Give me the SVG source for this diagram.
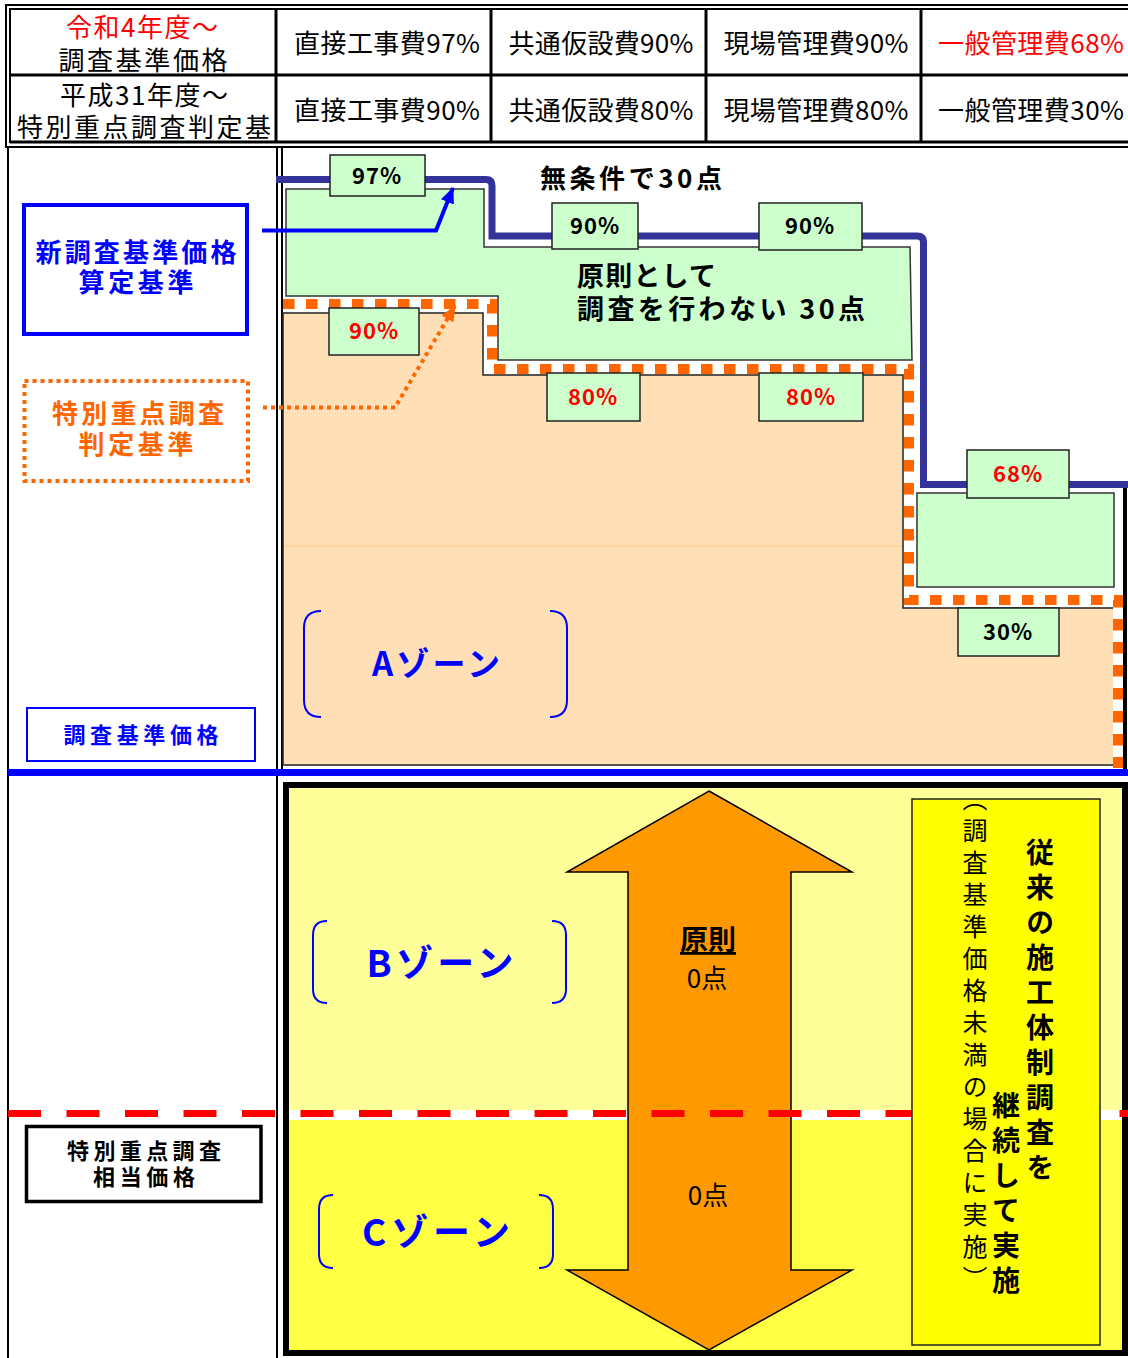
<svg xmlns="http://www.w3.org/2000/svg" width="1128" height="1358" viewBox="0 0 1128 1358">
<style>
text{font-family:"Noto Sans CJK JP","Noto Sans CJK SC",sans-serif;}
.t{font-size:26px;fill:#000;text-anchor:middle}
.lab{font-weight:bold;text-anchor:middle}
.pct{font-size:22px;font-weight:bold;text-anchor:middle;letter-spacing:1px}
.gb{fill:#CCFFCC;stroke:#222;stroke-width:1.5}
.br{fill:none;stroke:#0000FF;stroke-width:2}
.k{stroke:#000;fill:none}
.zone{font-weight:bold;fill:#0000FF;text-anchor:middle}
.vt{writing-mode:vertical-rl;fill:#000}
</style>
<defs>
<marker id="arB" viewBox="0 0 16 14" markerWidth="16" markerHeight="14" refX="15" refY="7" orient="auto" markerUnits="userSpaceOnUse">
<path d="M0,0 L16,7 L0,14 z" fill="#0000FF"/>
</marker>
<marker id="arO" viewBox="0 0 16 14" markerWidth="16" markerHeight="14" refX="15" refY="7" orient="auto" markerUnits="userSpaceOnUse">
<path d="M0,0 L16,7 L0,14 z" fill="#FF6600"/>
</marker>
</defs>
<rect x="0" y="0" width="1128" height="1358" fill="#fff"/>

<!-- table -->
<g id="table">
<g class="k" stroke-width="2">
<line x1="5" y1="5" x2="1128" y2="5"/>
<line x1="9" y1="9" x2="1128" y2="9"/>
<line x1="6" y1="5" x2="6" y2="148"/>
<line x1="10" y1="9" x2="10" y2="143"/>
<line x1="6" y1="147" x2="1128" y2="147"/>
</g>
<g class="k" stroke-width="3">
<line x1="10" y1="75" x2="1128" y2="75"/>
<line x1="10" y1="142" x2="1128" y2="142"/>
<line x1="276" y1="9" x2="276" y2="143"/>
<line x1="491" y1="9" x2="491" y2="143"/>
<line x1="706" y1="9" x2="706" y2="143"/>
<line x1="921" y1="9" x2="921" y2="143"/>
</g>
<text class="t" x="142" y="37" fill="#FF0000" style="fill:#FF0000" textLength="152">令和4年度～</text>
<text class="t" x="143" y="70" textLength="169">調査基準価格</text>
<text class="t" x="144" y="105" textLength="168">平成31年度～</text>
<text class="t" x="144" y="137" textLength="254">特別重点調査判定基</text>
<text class="t" x="387" y="53" textLength="186">直接工事費97%</text>
<text class="t" x="601" y="53" textLength="185">共通仮設費90%</text>
<text class="t" x="816" y="53" textLength="185">現場管理費90%</text>
<text class="t" x="1031" y="53" textLength="186" style="fill:#FF0000">一般管理費68%</text>
<text class="t" x="387" y="120" textLength="186">直接工事費90%</text>
<text class="t" x="601" y="120" textLength="185">共通仮設費80%</text>
<text class="t" x="816" y="120" textLength="185">現場管理費80%</text>
<text class="t" x="1031" y="120" textLength="186">一般管理費30%</text>
</g>

<!-- frame lines of body -->
<g id="frame">
<line class="k" stroke-width="2" x1="8" y1="147" x2="8" y2="1358"/>
<line class="k" stroke-width="2" x1="277" y1="147" x2="277" y2="1358"/>
<line class="k" stroke-width="2" x1="282" y1="147" x2="282" y2="772"/>
<line class="k" stroke-width="4" x1="1125" y1="487" x2="1125" y2="772"/>
</g>

<!-- chart -->
<g id="zoneA-area">
<path d="M283,313 H483 V375 H903 V608 H1116 V765 H283 Z" fill="#FFE0B6" stroke="#222" stroke-width="1.5"/>
<line x1="284" y1="546" x2="902" y2="546" stroke="#FFC987" stroke-width="1"/>
</g>
<g id="green-area">
<path d="M286,189 H484 V247 H910 L912,360 H498 V296 H286 Z" fill="#CCFFCC" stroke="#333" stroke-width="1.5"/>
<rect x="917" y="493" width="197" height="94" fill="#CCFFCC" stroke="#333" stroke-width="1.5"/>
</g>
<g id="line-new">
<path d="M276,179.5 H486 Q492,179.5 492,185.5 V236 H917 Q923.5,236 923.5,242 V484.5 H1128" fill="none" stroke="#333399" stroke-width="7"/>
</g>
<g id="line-special">
<path d="M283,304 H492 V369 H909 V600 H1118 V768" fill="none" stroke="#fff" stroke-width="10"/>
<path d="M283,304 H492 V369 H909 V600 H1118 V768" fill="none" stroke="#FF6600" stroke-width="10" stroke-dasharray="11.5 11.5"/>
</g>

<g id="p97"><rect class="gb" x="330" y="155" width="95" height="41"/><text class="pct" x="377" y="184">97%</text></g>
<g id="p90a"><rect class="gb" x="552" y="203" width="86" height="46"/><text class="pct" x="595" y="234">90%</text></g>
<g id="p90b"><rect class="gb" x="759" y="203" width="103" height="47"/><text class="pct" x="810" y="234">90%</text></g>
<g id="p90c"><rect class="gb" x="329" y="308" width="90" height="47"/><text class="pct" x="374" y="339" fill="#FF0000">90%</text></g>
<g id="p80a"><rect class="gb" x="547" y="373" width="93" height="48"/><text class="pct" x="593" y="405" fill="#FF0000">80%</text></g>
<g id="p80b"><rect class="gb" x="759" y="373" width="104" height="48"/><text class="pct" x="811" y="405" fill="#FF0000">80%</text></g>
<g id="p68"><rect class="gb" x="967" y="450" width="102" height="48"/><text class="pct" x="1018" y="482" fill="#FF0000">68%</text></g>
<g id="p30"><rect class="gb" x="958" y="608" width="101" height="48"/><text class="pct" x="1008" y="640">30%</text></g>

<g id="mujouken"><text x="540" y="188" font-size="26" font-weight="bold" textLength="182">無条件で30点</text></g>
<g id="gensoku30">
<text x="577" y="286" font-size="27" font-weight="bold" textLength="139">原則として</text>
<text x="577" y="319" font-size="27" font-weight="bold" textLength="288">調査を行わない 30点</text>
</g>

<g id="zoneA">
<path class="br" d="M321,611 Q304,611 304,628 V700 Q304,717 321,717"/>
<path class="br" d="M550,611 Q567,611 567,628 V700 Q567,717 550,717"/>
<text class="zone" x="436" y="676" font-size="33" textLength="128">Aゾーン</text>
</g>

<!-- left labels -->
<g id="label-new">
<rect x="24" y="205" width="223" height="129" fill="none" stroke="#0000FF" stroke-width="4"/>
<text class="lab" x="136" y="262" font-size="26" fill="#0000FF" textLength="201">新調査基準価格</text>
<text class="lab" x="136" y="292" font-size="26" fill="#0000FF" textLength="115">算定基準</text>
</g>
<g id="label-special">
<rect x="24.5" y="381" width="223.5" height="100" fill="none" stroke="#FF6600" stroke-width="4" stroke-dasharray="4 4"/>
<text class="lab" x="138" y="423" font-size="26" fill="#FF6600" textLength="172">特別重点調査</text>
<text class="lab" x="136" y="454" font-size="26" fill="#FF6600" textLength="115">判定基準</text>
</g>
<g id="label-base">
<rect x="27" y="708" width="228" height="53" fill="none" stroke="#0000FF" stroke-width="2"/>
<text class="lab" x="141" y="743" font-size="22" fill="#0000FF" textLength="155">調査基準価格</text>
</g>

<g id="connectors">
<path d="M262,230.5 H436 L453,188" fill="none" stroke="#0000FF" stroke-width="4" marker-end="url(#arB)"/>
<path d="M263,407.5 H395 L455,306" fill="none" stroke="#FF6600" stroke-width="4" stroke-dasharray="4 4" marker-end="url(#arO)"/>
</g>

<!-- blue base line -->
<g id="base-line"><rect x="8" y="769" width="1120" height="7" fill="#0000FF"/></g>

<!-- lower area -->
<g id="lower-area">
<rect x="289" y="788" width="836" height="322" fill="#FFFF99"/>
<rect x="289" y="1110" width="836" height="10" fill="#fff"/>
<rect x="289" y="1120" width="836" height="230" fill="#FFFF44"/>
<rect x="286" y="785" width="839" height="568" fill="none" stroke="#000" stroke-width="6"/>
</g>

<g id="arrow">
<path d="M709,791 L852,872 L791,872 L791,1270 L852,1270 L709,1350 L567,1270 L628,1270 L628,872 L567,872 Z" fill="#FF9900" stroke="#000" stroke-width="1.5"/>
<text x="708" y="950" font-size="28" font-weight="bold" text-anchor="middle" text-decoration="underline">原則</text>
<text x="707" y="988" font-size="26" text-anchor="middle">0点</text>
<text x="708" y="1205" font-size="26" text-anchor="middle">0点</text>
</g>

<g id="red-line">
<line x1="8" y1="1113.5" x2="1128" y2="1113.5" stroke="#FF0000" stroke-width="7" stroke-dasharray="33 25.5"/>
</g>

<g id="label-equiv">
<rect x="26.5" y="1126.5" width="234.5" height="75" fill="#fff" stroke="#000" stroke-width="3.5"/>
<text class="lab" x="144" y="1159" font-size="22" textLength="154">特別重点調査</text>
<text class="lab" x="144" y="1185" font-size="22" textLength="102">相当価格</text>
</g>

<g id="zoneB">
<path class="br" d="M327,921 Q313,921 313,935 V989 Q313,1003 327,1003"/>
<path class="br" d="M552,921 Q566,921 566,935 V989 Q566,1003 552,1003"/>
<text class="zone" x="440" y="977" font-size="37" textLength="147">Bゾーン</text>
</g>
<g id="zoneC">
<path class="br" d="M333,1195 Q319,1195 319,1209 V1254 Q319,1268 333,1268"/>
<path class="br" d="M539,1195 Q553,1195 553,1209 V1254 Q553,1268 539,1268"/>
<text class="zone" x="436" y="1246" font-size="37" textLength="148">Cゾーン</text>
</g>

<g id="note">
<rect x="912" y="799" width="188" height="546" fill="#FFFF00" stroke="#222" stroke-width="1.5"/>
<text class="vt" x="1040" y="838" font-size="28" font-weight="bold" letter-spacing="7">従来の施工体制調査を</text>
<text class="vt" x="1006" y="1091" font-size="28" font-weight="bold" letter-spacing="7">継続して実施</text>
<text class="vt" x="975" y="786" font-size="25" letter-spacing="7">（調査基準価格未満の場合に実施）</text>
</g>
</svg>
